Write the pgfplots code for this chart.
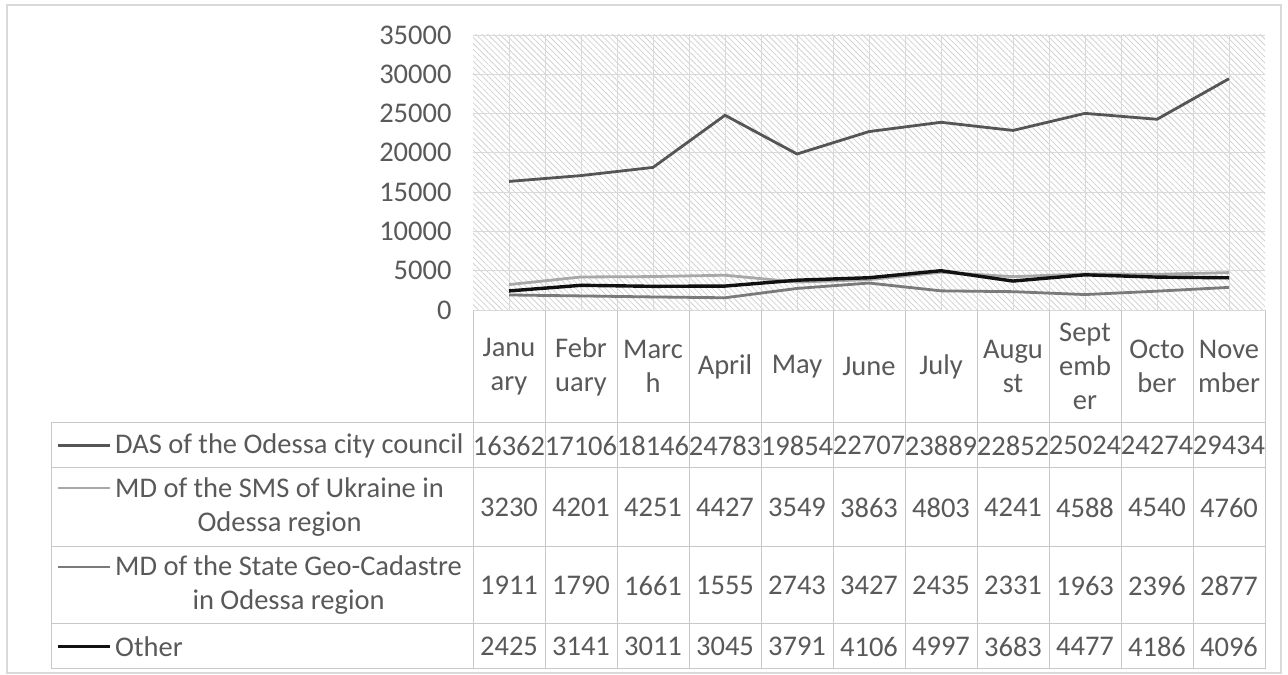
\documentclass[border=0pt]{standalone}
\usepackage{pgfplots}
\pgfplotsset{compat=1.18}
\usepackage{pgfplotstable}
\usepackage{fontspec}
\setmainfont{Carlito}
\usetikzlibrary{patterns.meta}

\definecolor{txt}{HTML}{595959}
\definecolor{gridc}{HTML}{D9D9D9}
\definecolor{tabc}{HTML}{C8C8C8}
\definecolor{cDAS}{HTML}{555555}
\definecolor{cSMS}{HTML}{A8A8A8}
\definecolor{cGEO}{HTML}{7A7A7A}
\definecolor{cOTH}{HTML}{111111}

% monthly values, columns in the order of the data table rows
\pgfplotstableread{
idx das sms geo other
1 16362 3230 1911 2425
2 17106 4201 1790 3141
3 18146 4251 1661 3011
4 24783 4427 1555 3045
5 19854 3549 2743 3791
6 22707 3863 3427 4106
7 23889 4803 2435 4997
8 22852 4241 2331 3683
9 25024 4588 1963 4477
10 24274 4540 2396 4186
11 29434 4760 2877 4096
}\data

\begin{document}
\begin{tikzpicture}[x=1bp,y=1bp,font=\fontsize{28.5bp}{34bp}\selectfont]
\path (0,0) rectangle (1288,675);
\draw[gridc, line width=1.5bp] (7,2) rectangle (1281,670);

\begin{axis}[at={(473bp,365bp)}, anchor=south west, scale only axis,
    width=792bp, height=275bp,
    xmin=0.5, xmax=11.5, ymin=0, ymax=35000,
    xtick={1,...,11},
    xticklabels={{Janu\\ary},{Febr\\uary},{Marc\\h},April,May,June,July,{Augu\\st},{Sept\\emb\\er},{Octo\\ber},{Nove\\mber}},
    minor x tick num=1,
    ytick={0,5000,...,35000},
    scaled y ticks=false,
    xmajorgrids, xminorgrids, ymajorgrids,
    grid style={gridc, line width=0.9bp},
    minor grid style={gridc, line width=0.9bp},
    major tick length=0, minor tick length=0,
    axis line style={draw=none},
    yticklabel style={text=txt, xshift=-18bp},
    xticklabel style={text=txt, align=center, anchor=center, yshift=-56.5bp},
    /pgf/number format/assume math mode=true,
    /pgf/number format/1000 sep={},
    axis background/.style={pattern={Lines[angle=-45,distance=4.2bp,line width=0.8bp]}, pattern color=gray!35},
    clip=false]
\addplot[cDAS, line width=2.8bp, mark=none] table[x=idx,y=das]{\data};
\addplot[cSMS, line width=2.8bp, mark=none] table[x=idx,y=sms]{\data};
\addplot[cGEO, line width=2.8bp, mark=none] table[x=idx,y=geo]{\data};
\addplot[cOTH, line width=3.4bp, mark=none] table[x=idx,y=other]{\data};
\end{axis}

% data table grid
\begin{scope}[tabc, line width=1bp]
\foreach \yy in {252,207,128,51,6} \draw (51,\yy) -- (1265,\yy);
\draw (51,252) -- (51,6);
\foreach \k in {0,...,11} \draw (473+72*\k,365) -- (473+72*\k,6);
\end{scope}

\begin{axis}[at={(473bp,6bp)}, anchor=south west, scale only axis,
    width=792bp, height=359bp,
    xmin=0.5, xmax=11.5, ymin=6, ymax=365,
    hide axis, clip=false,
    nodes near coords, point meta=explicit symbolic,
    every node near coord/.append style={anchor=center, text=txt, inner sep=0pt}]
\addplot[draw=none, mark=none] table[x=idx, y expr=229.5, meta=das]{\data};
\addplot[draw=none, mark=none] table[x=idx, y expr=167.5, meta=sms]{\data};
\addplot[draw=none, mark=none] table[x=idx, y expr=89.5, meta=geo]{\data};
\addplot[draw=none, mark=none] table[x=idx, y expr=28.5, meta=other]{\data};
\end{axis}

% row headers with legend keys
\draw[cDAS, line width=2.8bp] (58,229.5) -- (110,229.5);
\draw[cSMS, line width=2.8bp] (58,187) -- (110,187);
\draw[cGEO, line width=2.8bp] (58,108) -- (110,108);
\draw[cOTH, line width=3.4bp] (58,28.5) -- (110,28.5);
\begin{scope}[every node/.style={anchor=west, align=center, text=txt, inner sep=0pt}]
\node at (115,229.5) {DAS of the Odessa city council};
\node at (115,167.5) {MD of the SMS of Ukraine in\\Odessa region};
\node at (115,89.5) {MD of the State Geo-Cadastre\\in Odessa region};
\node at (115,28.5) {Other};
\end{scope}
\end{tikzpicture}
\end{document}
